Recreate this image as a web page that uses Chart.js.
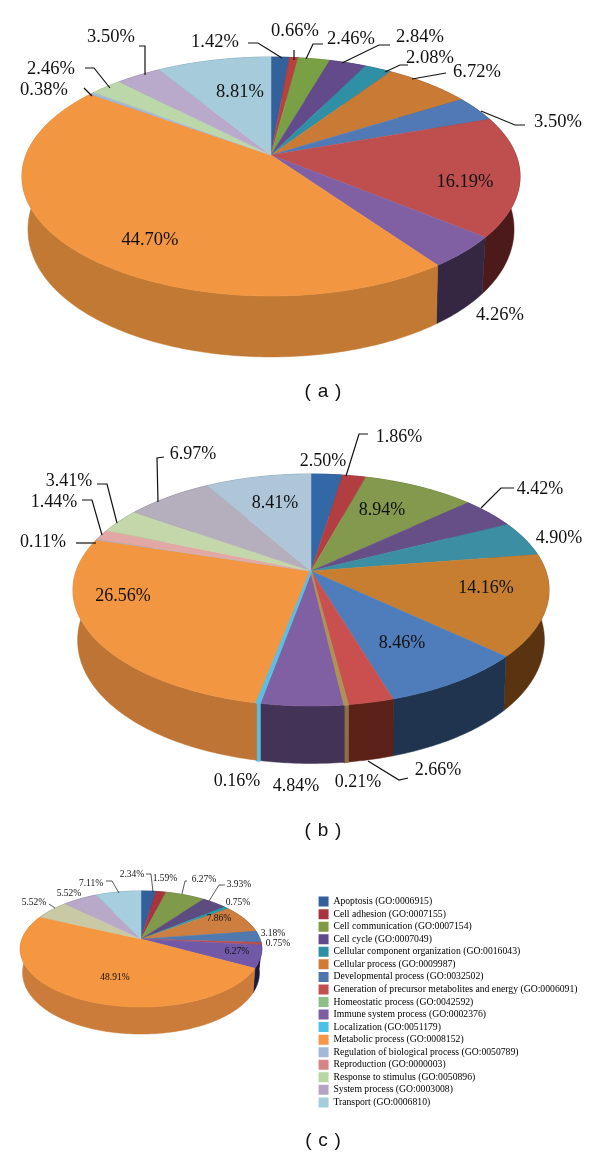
<!DOCTYPE html>
<html><head><meta charset="utf-8">
<script src="https://cdn.jsdelivr.net/npm/chart.js@4"></script>
<style>
html,body{margin:0;padding:0;background:#fff;width:600px;height:1157px;overflow:hidden}
canvas{position:absolute;left:0;filter:blur(0.35px)}
#c{filter:blur(0.5px)}
.cap{position:absolute;left:223px;width:200px;text-align:center;font:19px "Liberation Sans",sans-serif;word-spacing:1.5px;color:#111;white-space:pre}
</style></head><body>
<canvas id="a" width="600" height="400" style="top:0"></canvas>
<canvas id="b" width="600" height="450" style="top:400px"></canvas>
<canvas id="c" width="600" height="304" style="top:850px"></canvas>
<div class="cap" style="top:380px">( a )</div>
<div class="cap" style="top:819px">( b )</div>
<div class="cap" style="top:1129px">( c )</div>
<script>
const categories=["Apoptosis (GO:0006915)","Cell adhesion (GO:0007155)","Cell communication (GO:0007154)","Cell cycle (GO:0007049)","Cellular component organization (GO:0016043)","Cellular process (GO:0009987)","Developmental process (GO:0032502)","Generation of precursor metabolites and energy (GO:0006091)","Homeostatic process (GO:0042592)","Immune system process (GO:0002376)","Localization (GO:0051179)","Metabolic process (GO:0008152)","Regulation of biological process (GO:0050789)","Reproduction (GO:0000003)","Response to stimulus (GO:0050896)","System process (GO:0003008)","Transport (GO:0006810)"];
const valuesA=[1.42,0.66,2.46,2.84,2.08,6.72,3.50,16.19,0,4.26,0,44.70,0.38,0,2.46,3.50,8.81];
const valuesB=[2.50,1.86,8.94,4.42,4.90,14.16,8.46,2.66,0.21,4.84,0.16,26.56,0.11,1.44,3.41,6.97,8.41];
const valuesC=[2.34,1.59,6.27,3.93,0.75,7.86,3.18,0.75,0,6.27,0,48.91,0,0,5.52,5.52,7.11];

const colorsA=["#33619c","#b8403f","#7aa045","#634a8a","#2f8fa5","#c97b36","#5079b5","#bf4f4e","#8cbf85","#8060a2","#4bc1e8","#f39642","#a4b8d8","#d58585","#bcd8ab","#b9aacb","#a6ccdc"];
const wallsA=["#1c3558","#5a1d1d","#44591f","#33254a","#164f5c","#6e421a","#26416a","#4c1a1b","#4d6b48","#352742","#2a7088","#c27933","#5a6a80","#7a4444","#6b7f5c","#62576f","#5a7a86"];
const colorsB=["#3268a6","#b33e42","#83994e","#664f87","#3c8ea2","#c77e30","#4f7cba","#c9504f","#b0915a","#8060a2","#5bbfe3","#f39642","#a4b8d8","#e2a8a5","#c3d7aa","#b5aebd","#aec6d8"];
const wallsB=["#1c3558","#5a1d1d","#44591f","#33254a","#164f5c","#5a3410","#20344f","#5c2118","#8d7048","#433356","#5bbfe3","#bd7434","#5a6a80","#7a4444","#6b7f5c","#62576f","#5a7a86"];
const colorsC=["#33609b","#a8343f","#7f9a4a","#5c4c80","#2a9cab","#cc7f40","#5079b0","#b8504f","#8cbf85","#7259a8","#4bc1e8","#f59640","#a4b8d8","#d58585","#c9c9a5","#b9a9c9","#a7cede"];
const wallsC=["#1c3558","#5a1d1d","#44591f","#33254a","#164f5c","#6e421a","#26416a","#4c1a1b","#4d6b48","#201838","#2a7088","#cb7c3a","#5a6a80","#7a4444","#6b7f5c","#62576f","#5a7a86"];
const legendColors=["#33609b","#a8343f","#7f9a42","#5f4a8b","#2f8ea6","#d07a34","#4f75ad","#c0504d","#8cbf85","#7e5ea3","#4bc1e8","#f79646","#a4b8d8","#d58585","#b9d6a4","#b5a4c8","#a5cddc"];

// Label anchors (page pixels), by category
const labelPosA=[[215,42],[295,31],[351,39],[420,37],[430,58],[477,72],[558,122],[465,182],null,[500,315],null,[150,240],[44,90],null,[51,69],[111,37],[240,92]];
const labelPosB=[[323,461],[399,437],[382,510],[540,489],[559,538],[486,588],[402,643],[438,770],[358,782],[296,786],[237,781],[123,596],[43,542],[54,502],[69,481],[193,454],[275,503]];
const labelPosC=[[132,874],[165,878],[204,879],[239,884],[238,902],[219,918],[273,933],[278,943],null,[237,951],null,[115,977],null,null,[34,902],[69,893],[91,883]];
const leadersA=[[[248,43],[258,43],[282,58]],[[294,50],[294,60]],[[323,44],[313,44],[306,59]],[[390,45],[379,45],[342,63]],[[408,65],[400,65],[385,72]],[[446,73],[412,79]],[[525,125],[515,125],[481,111]],[[92,96],[84,88]],[[110,88],[94,68],[85,68]],[[145,75],[145,46],[139,46]]];
const leadersB=[[[368,434],[359,434],[346,476]],[[514,488],[501,488],[481,508]],[[408,778],[399,780],[368,761]],[[97,484],[107,484],[117,523]],[[82,500],[92,500],[102,535]],[[76,543],[96,543]],[[164,457],[157,458],[158,502]]];
const leadersC=[[[146,874],[151,874],[153,892]],[[187,881],[185,881],[182,894]],[[225,885],[219,885],[209,901]],[[106,881],[112,881],[119,893]],[[49,904],[55,908]]];

// Perspective disc: apex (cx,cy), radius R, vertical scale S, tilt p, wall depth D
const pie3d={
 id:'pie3d',
 beforeDatasetsDraw(chart,args,o){
  const ctx=chart.ctx, arcs=chart.getDatasetMeta(0).data;
  const top=(a)=>{const u=Math.cos(a),v=Math.sin(a),w=1+o.p*v;return [o.cx+o.R*u/w,o.cy+o.S*v/w-o.top];};
  const bot=(a)=>{const u=Math.cos(a),v=Math.sin(a),w=1+o.p*v,f=1-(1-o.bx)*(1-v*v);return [o.cx+o.R*f*u/w,o.cy+(o.S*v+o.D)/w-o.top];};
  const samples=(s,e)=>{const n=Math.max(2,Math.ceil((e-s)/0.015));return Array.from({length:n+1},(_,i)=>s+(e-s)*i/n);};
  const width=(i)=>(o.thin&&o.thin[i])||0.5;
  ctx.save();
  ctx.lineJoin='round';
  arcs.forEach((arc,i)=>{
   if(arc.endAngle-arc.startAngle<=0)return;
   const t=samples(arc.startAngle,arc.endAngle);
   ctx.beginPath();
   t.forEach((a,k)=>{const q=top(a);k?ctx.lineTo(q[0],q[1]):ctx.moveTo(q[0],q[1]);});
   t.slice().reverse().forEach(a=>{const q=bot(a);ctx.lineTo(q[0],q[1]);});
   ctx.closePath();
   ctx.fillStyle=o.walls[i];ctx.strokeStyle=o.walls[i];ctx.lineWidth=width(i);ctx.fill();ctx.stroke();
  });
  const face=(arc,i,lw)=>{
   const t=samples(arc.startAngle,arc.endAngle);
   ctx.beginPath();ctx.moveTo(o.cx,o.cy-o.top);
   t.forEach(a=>{const q=top(a);ctx.lineTo(q[0],q[1]);});
   ctx.closePath();
   const c=chart.data.datasets[0].backgroundColor[i];
   ctx.fillStyle=c;ctx.strokeStyle=c;ctx.lineWidth=lw;ctx.fill();ctx.stroke();
  };
  arcs.forEach((arc,i)=>{if(arc.endAngle>arc.startAngle&&width(i)<=0.5)face(arc,i,0.5);});
  arcs.forEach((arc,i)=>{if(arc.endAngle>arc.startAngle&&width(i)>0.5)face(arc,i,width(i));});
  ctx.restore();
  return false;
 },
 afterDraw(chart,args,o){
  const ctx=chart.ctx, vals=chart.data.datasets[0].data;
  ctx.save();
  ctx.strokeStyle='#111';ctx.lineWidth=o.leaderWidth;
  o.leaders.forEach(l=>{ctx.beginPath();l.forEach((p,k)=>{k?ctx.lineTo(p[0],p[1]-o.top):ctx.moveTo(p[0],p[1]-o.top);});ctx.stroke();});
  ctx.fillStyle='#111';ctx.font=o.font;ctx.textAlign='center';ctx.textBaseline='middle';
  vals.forEach((v,i)=>{const p=o.labels[i];if(p&&v>0)ctx.fillText(v.toFixed(2)+'%',p[0],p[1]-o.top);});
  ctx.restore();
 }
};
function make(id,values,colors,geo,showLegend){
 return new Chart(document.getElementById(id),{
  type:'pie',
  data:{labels:categories,datasets:[{data:values,backgroundColor:colors,borderWidth:0}]},
  plugins:[pie3d],
  options:{responsive:false,animation:false,
   layout:{padding:{right:showLegend?12.5:0}},
   plugins:{tooltip:{enabled:false},
    legend:{display:showLegend,position:'right',
     labels:{boxWidth:10,boxHeight:10,padding:2.55,color:'#222',
      font:{family:'"Liberation Serif"',size:9.7,lineHeight:1},
      generateLabels(c){return categories.map((t,i)=>({text:t,fillStyle:legendColors[i],strokeStyle:legendColors[i],lineWidth:0,index:i,hidden:false}));}}},
    pie3d:geo}}
 });
}
make('a',valuesA,colorsA,{cx:271,cy:155,R:245,S:115.6,p:-0.18,D:50,bx:0.975,top:0,walls:wallsA,labels:labelPosA,leaders:leadersA,font:'18.5px "Liberation Serif"',leaderWidth:1.2},false);
make('b',valuesB,colorsB,{cx:311,cy:571,R:234.8,S:112.9,p:-0.164,D:48,bx:0.98,top:400,walls:wallsB,labels:labelPosB,leaders:leadersB,font:'18px "Liberation Serif"',leaderWidth:1.2,thin:{8:1.8,10:2.4}},false);
make('c',valuesC,colorsC,{cx:141,cy:939,R:119,S:56.3,p:-0.172,D:22.4,bx:0.98,top:850,walls:wallsC,labels:labelPosC,leaders:leadersC,font:'9.5px "Liberation Serif"',leaderWidth:0.7},true);
</script></body></html>
